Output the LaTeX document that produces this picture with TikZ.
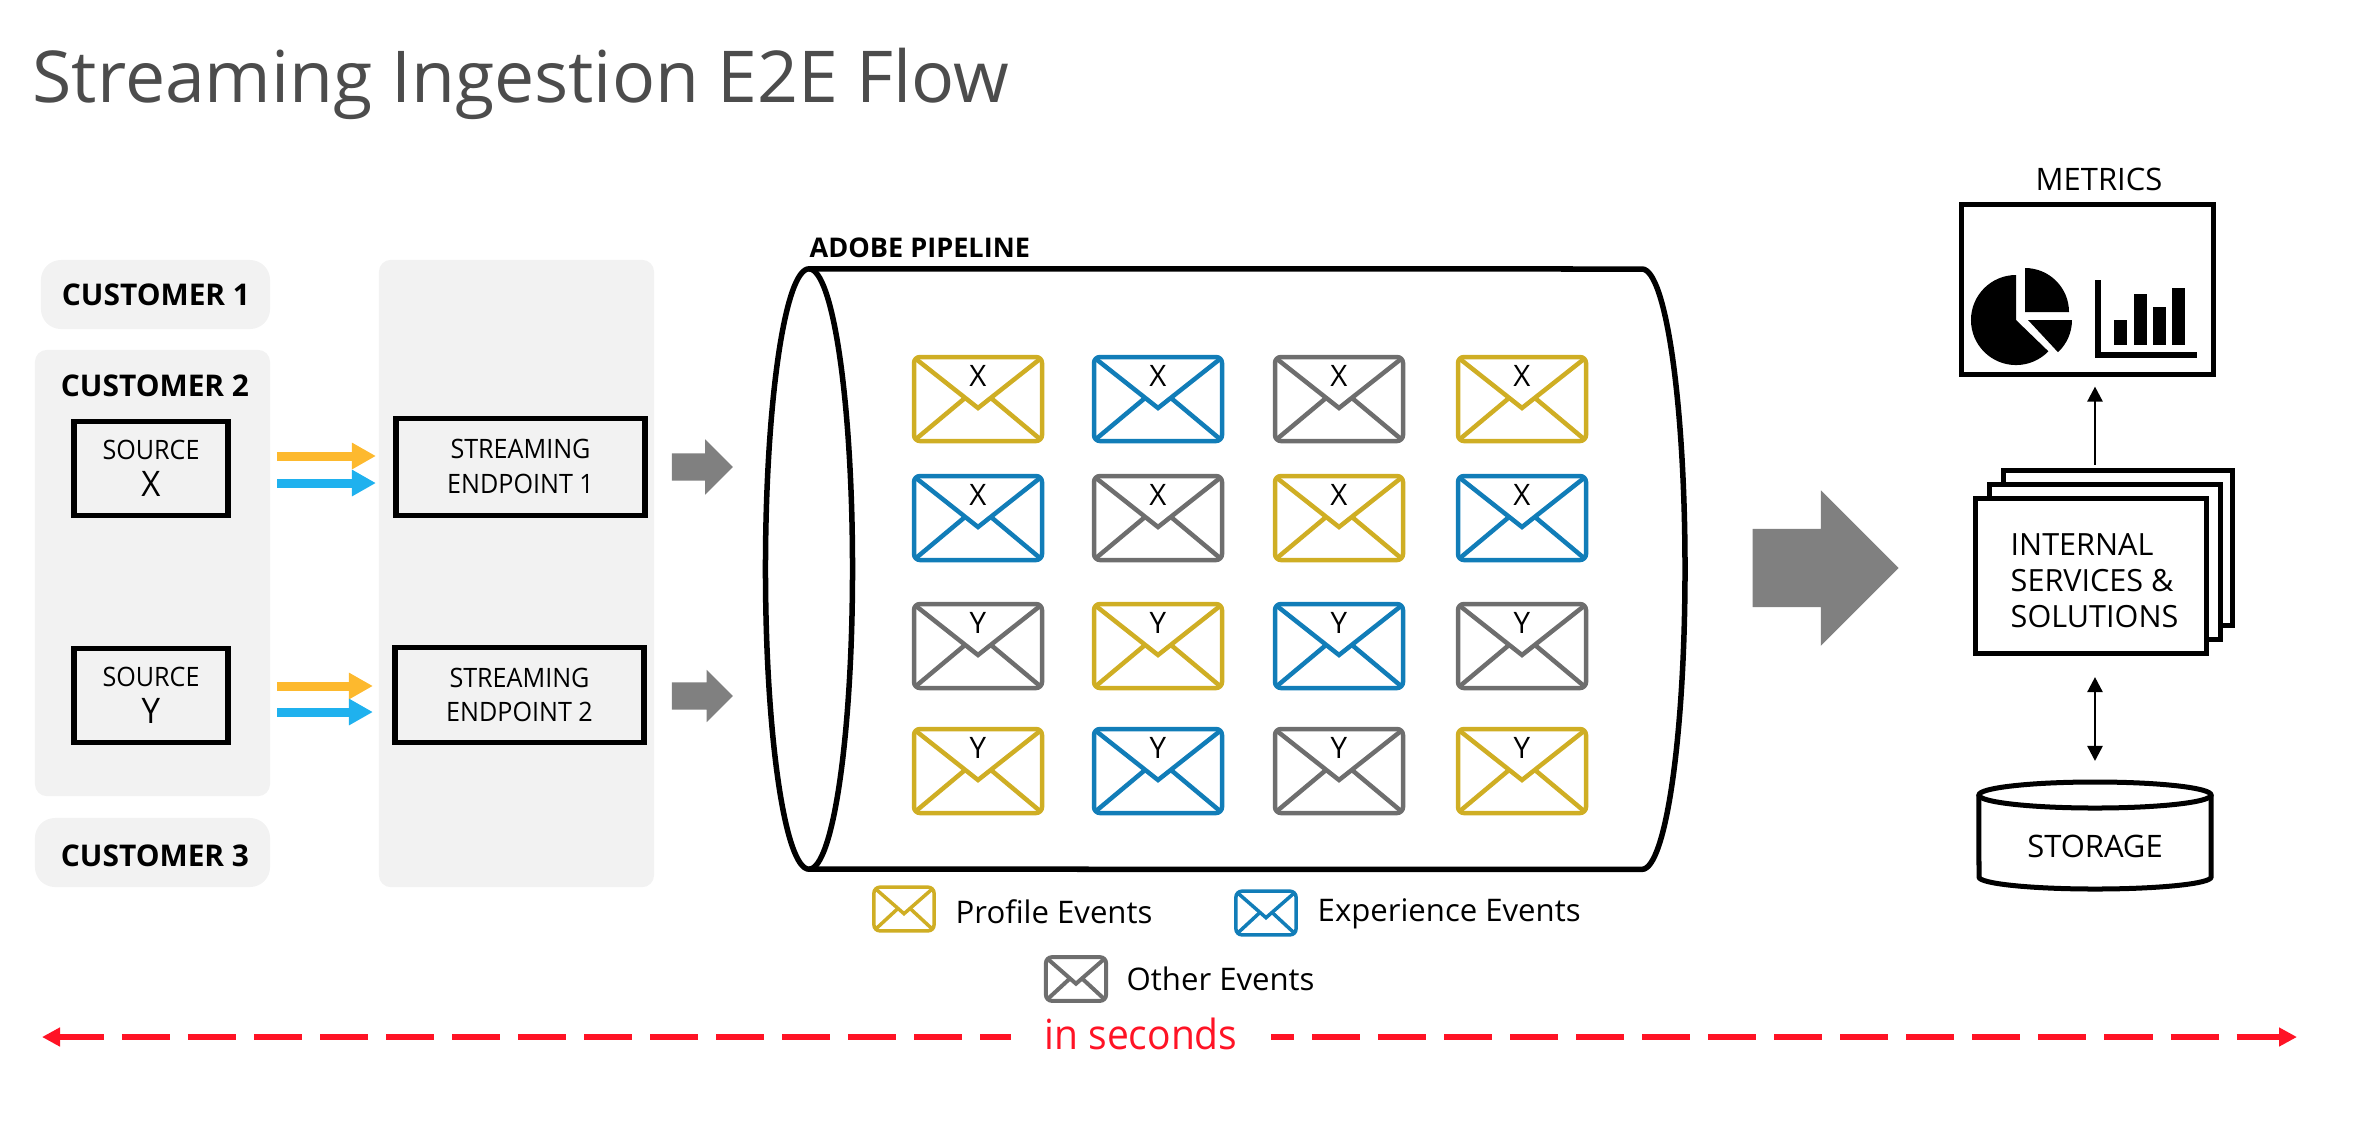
\documentclass[tikz,border=0pt]{standalone}
\usepackage{fontspec}
\setmainfont{Open Sans}
\newfontfamily\estreito[FakeStretch=0.94]{Open Sans}
\usetikzlibrary{shapes.geometric, shapes.arrows, arrows.meta, positioning, calc}
\definecolor{goldenv}{HTML}{CFAE24}
\definecolor{blueenv}{HTML}{117DB8}
\definecolor{grayenv}{HTML}{6E6E6E}
\definecolor{panelgray}{HTML}{F2F2F2}
\definecolor{blockgray}{HTML}{808080}
\definecolor{floworange}{HTML}{FDB92E}
\definecolor{flowblue}{HTML}{1FB1EE}
\definecolor{timered}{HTML}{FF1325}
\tikzset{
    panel/.style={rectangle, rounded corners=0.12cm, fill=panelgray, inner sep=0pt, outer sep=0pt},
    cliente/.style={font=\fontsize{8.5}{10}\selectfont\bfseries, inner sep=0pt},
    caixa/.style={rectangle, draw, line width=0.055cm, outer sep=0pt, inner sep=0pt, align=center, font=\estreito\fontsize{7.6}{9.9}\selectfont},
    fluxo/.style={line width=0.09cm, -{Triangle[length=0.24cm, width=0.25cm]}, shorten <=0.49cm},
    bloco/.style={single arrow, fill=blockgray, inner xsep=0pt, inner ysep=0.13cm, outer sep=0pt, single arrow head extend=0.14cm},
    seta/.style={line width=0.025cm, -{Triangle[length=0.15cm, width=0.15cm]}},
    seta_dupla/.style={line width=0.025cm, {Triangle[length=0.15cm, width=0.15cm]}-{Triangle[length=0.15cm, width=0.15cm]}},
    legenda/.style={font=\fontsize{8.85}{10}\selectfont, inner sep=0pt, anchor=west},
    tempo/.style={line width=0.06cm, timered, dash pattern=on 0.48cm off 0.18cm},
    envelope/.pic={
        \draw[rounded corners=0.06cm] (-64,-42) rectangle (64,42);
        \draw (-62,-40) -- (0,9) -- (62,-40);
        \draw (-62,40) -- (-13,-1);
        \draw (62,40) -- (13,-1);
        \node[text=black, font=\fontsize{8.4}{9}\selectfont, inner sep=0pt] at (0,-23) {#1};
    }
}
\begin{document}
\begin{tikzpicture}[x=0.01cm, y=-0.01cm]
        \useasboundingbox (0,0) rectangle (2374,1138);

        % Titulo
        \node (titulo) [anchor=base west, inner sep=0pt, text=black!70, font=\fontsize{20.35}{22}\selectfont] at (32,102) {Streaming Ingestion E2E Flow};

        % Paineis cinza
        \node (c1) [panel, rounded corners=0.2cm, minimum width=2.29cm, minimum height=0.69cm] at (155.5,294.5) {};
        \node (c2) [panel, minimum width=2.35cm, minimum height=4.46cm] at (152.5,573) {};
        \node (c3) [panel, rounded corners=0.2cm, minimum width=2.35cm, minimum height=0.69cm] at (152.5,852.5) {};
        \node (painel) [panel, minimum width=2.75cm, minimum height=6.27cm] at (516.5,573.5) {};
        \node (c1txt) [cliente] at (156,295) {CUSTOMER 1};
        \node (c2txt) [cliente] at (155,386) {CUSTOMER 2};
        \node (c3txt) [cliente] at (155,856) {CUSTOMER 3};

        % Fontes e endpoints
        \node (srcx) [caixa, minimum width=1.54cm, minimum height=0.94cm] at (151,468.5) {SOURCE\\[0.02cm]{\fontsize{10}{10}\selectfont X}};
        \node (srcy) [caixa, minimum width=1.54cm, minimum height=0.94cm] at (151,695.5) {SOURCE\\[0.02cm]{\fontsize{10}{10}\selectfont Y}};
        \node (end1) [caixa, minimum width=2.49cm, minimum height=0.97cm, text depth=0.02cm] at (520.5,467) {STREAMING\\ENDPOINT 1};
        \node (end2) [caixa, minimum width=2.49cm, minimum height=0.95cm] at (519.5,695) {STREAMING\\ENDPOINT 2};

        % Setas de evento
        \draw [fluxo, floworange, shorten >=0.2cm] ([yshift=0.11cm]srcx.east |- end1.east) -- ([yshift=0.11cm]end1.west);
        \draw [fluxo, flowblue, shorten >=0.2cm] ([yshift=-0.16cm]srcx.east |- end1.east) -- ([yshift=-0.16cm]end1.west);
        \draw [fluxo, floworange, shorten >=0.22cm] ([yshift=0.09cm]srcy.east |- end2.east) -- ([yshift=0.09cm]end2.west);
        \draw [fluxo, flowblue, shorten >=0.22cm] ([yshift=-0.17cm]srcy.east |- end2.east) -- ([yshift=-0.17cm]end2.west);

        % Setas cinza
        \node (bloco1) [bloco, minimum height=0.61cm] at (695.5,467) {};
        \node (bloco2) [bloco, minimum height=0.61cm, single arrow head extend=0.125cm] at (695.5,696) {};
        \node (bloco3) [bloco, minimum height=1.46cm, inner ysep=0.385cm, single arrow head extend=0.385cm] at (1806,568) {};

        % Pipeline
        \node (pipelinetxt) [anchor=south west, inner sep=0pt, font=\fontsize{7.7}{9}\selectfont\bfseries] at (809,258) {ADOBE PIPELINE};
        \node (pipefim) [ellipse, draw, line width=0.055cm, inner sep=0pt, outer sep=0pt, minimum width=0.87cm, minimum height=6cm] at (809,569) {};
        \draw [line width=0.055cm] (pipefim.north) -- (1642,269) arc[start angle=90, end angle=-90, x radius=0.43cm, y radius=3cm] -- (pipefim.south);

        % Envelopes
        \foreach \xc/\yc/\cor/\txt in {
            978/399/goldenv/X, 1158/399/blueenv/X, 1339/399/grayenv/X, 1522/399/goldenv/X,
            978/518/blueenv/X, 1158/518/grayenv/X, 1339/518/goldenv/X, 1522/518/blueenv/X,
            978/646/grayenv/Y, 1158/646/goldenv/Y, 1339/646/blueenv/Y, 1522/646/grayenv/Y,
            978/771/goldenv/Y, 1158/771/blueenv/Y, 1339/771/grayenv/Y, 1522/771/goldenv/Y}{
            \pic[\cor, line width=0.045cm] at (\xc,\yc) {envelope=\txt};
        }

        % Legenda
        \pic[goldenv, line width=0.035cm, xscale=0.47, yscale=0.52] at (904,909) {envelope={}};
        \pic[blueenv, line width=0.035cm, xscale=0.47, yscale=0.52] at (1266,913) {envelope={}};
        \pic[grayenv, line width=0.04cm, xscale=0.47, yscale=0.52] at (1076,979) {envelope={}};
        \node (leg1) [legenda] at (955,912) {Profile Events};
        \node (leg2) [legenda] at (1317,914) {Experience Events};
        \node (leg3) [legenda] at (1126,979) {Other Events};

        % Linha de tempo
        \node (tempotxt) [text=timered, inner sep=0pt, font=\estreito\fontsize{11.8}{13}\selectfont] at (1141,1034) {in seconds};
        \coordinate (tempoe) at (42,1037);
        \coordinate (tempod) at (2297,1037);
        \coordinate (tempoc1) at (1011,1037);
        \coordinate (tempoc2) at (1271,1037);
        \draw [tempo, dash phase=0.03cm, {Triangle[length=0.18cm, width=0.18cm]}-] (tempoe) -- (tempoc1);
        \draw [tempo, dash phase=0.25cm, -{Triangle[length=0.18cm, width=0.18cm]}] (tempoc2) -- (tempod);

        % Metricas
        \node (metricstxt) [inner sep=0pt, font=\fontsize{8.8}{9}\selectfont] at (2099,179) {METRICS};
        \node (metrics) [caixa, line width=0.05cm, minimum width=2.52cm, minimum height=1.7cm] at (2087.5,289.5) {};
        \fill (2016,320) -- (2016,275) arc[start angle=90, end angle=316, radius=0.45cm] -- cycle;
        \fill (2025,312) -- (2025,268) arc[start angle=90, end angle=0, radius=0.44cm] -- cycle;
        \fill (2028,320) -- (2072,320) arc[start angle=0, end angle=-47, radius=0.44cm] -- cycle;
        \draw [line width=0.055cm] (2098,280) -- (2098,355) -- (2197,355);
        \foreach \xb/\yb in {2114/320, 2134/294, 2153/307, 2172/288}{
            \fill (\xb,\yb) rectangle (\xb+13,345);
        }

        % Servicos internos
        \node (serv3) [caixa, fill=white, line width=0.05cm, minimum width=2.28cm, minimum height=1.54cm] at (2118,548) {};
        \node (serv2) [caixa, fill=white, line width=0.05cm, minimum width=2.3cm, minimum height=1.54cm] at (2105,562) {};
        \node (serv1) [caixa, fill=white, line width=0.05cm, minimum width=2.3cm, minimum height=1.54cm] at (2091,576) {};
        \node (servtxt) [inner sep=0pt, align=left, anchor=north west, font=\fontsize{8.7}{10.2}\selectfont] at (2010,533) {INTERNAL\\SERVICES \&\\SOLUTIONS};

        % Storage
        \node (storage) [ellipse, draw, line width=0.05cm, inner sep=0pt, outer sep=0pt, minimum width=2.32cm, minimum height=0.26cm] at (2095,795) {};
        \draw [line width=0.05cm] (storage.west) -- (1979,877) arc[start angle=180, end angle=360, x radius=1.16cm, y radius=0.12cm] -- (storage.east);
        \node (storagetxt) [inner sep=0pt, font=\fontsize{8.8}{9}\selectfont] at (2095,846) {STORAGE};

        % Setas pretas
        \draw [seta, shorten <=0.06cm, shorten >=0.12cm] (storage.north |- serv3.north) -- (storage.north |- metrics.south);
        \draw [seta_dupla, shorten <=0.24cm, shorten >=0.21cm] (storage.north |- serv1.south) -- (storage.north);

\end{tikzpicture}
\end{document}
